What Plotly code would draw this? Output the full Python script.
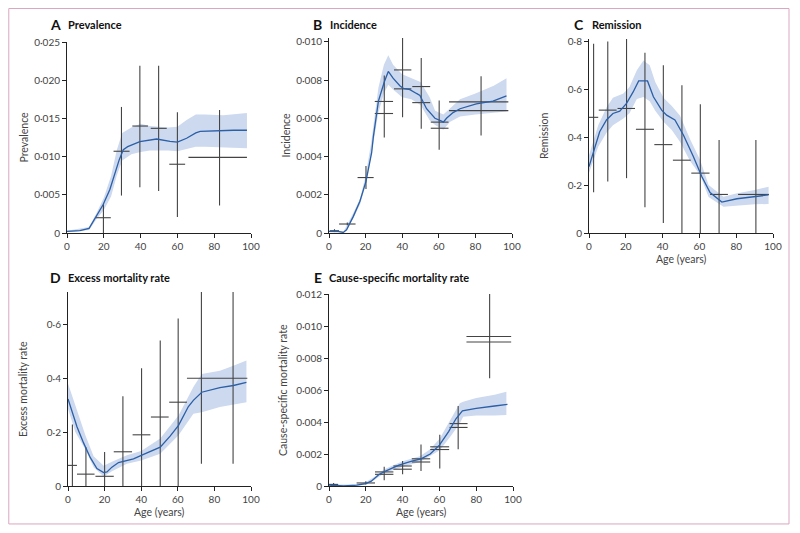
import plotly.graph_objects as go
from plotly.subplots import make_subplots

# Kolory i czcionki
LINE = "#2b5fa6"
BAND = "#cdd9ef"
BAR = "#444444"
AXIS = "#222222"
TICK_TXT = "#444444"
FRAME = "#dba6bf"
FONT = "Lato"

# ---------------- A: Prevalence ----------------
a_age = [0, 7, 12, 16, 19.6, 23.3, 28.4, 30.6, 33, 39.6, 48.7, 56, 60, 65, 70, 72.4, 81.5, 90.5, 97.8]
a_val = [0.0002, 0.0003, 0.0006, 0.0022, 0.0037, 0.0057, 0.0096, 0.0109, 0.0113, 0.01195, 0.0123,
         0.0120, 0.0119, 0.0124, 0.0131, 0.0133, 0.0134, 0.01345, 0.01345]
a_band_age = [0, 12, 16, 20, 24, 27, 30, 35, 40, 45, 50, 55, 60, 65, 70, 75, 85, 97.8]
a_band_hi = [0.0003, 0.0008, 0.0026, 0.0046, 0.0075, 0.0108, 0.0131, 0.0138, 0.0143, 0.0140,
             0.0139, 0.0138, 0.0139, 0.0148, 0.0155, 0.0155, 0.0154, 0.0157]
a_band_lo = [0.0001, 0.0004, 0.0018, 0.0030, 0.0048, 0.0075, 0.0095, 0.0103, 0.0106, 0.0108,
             0.0108, 0.0108, 0.0107, 0.0110, 0.0113, 0.0113, 0.0112, 0.0111]
a_obs_from = [15.5, 25.3, 35.5, 45.5, 55.6, 66]
a_obs_to = [23.8, 34, 44, 54.2, 64.2, 97.8]
a_obs_val = [0.002, 0.0107, 0.0140, 0.0137, 0.0090, 0.0099]
a_ci_age = [19.8, 29.6, 39.6, 49.8, 60, 82.9]
a_ci_lo = [0, 0.0049, 0.006, 0.0055, 0.0021, 0.0036]
a_ci_hi = [0.0038, 0.0165, 0.0219, 0.0219, 0.0158, 0.0161]

# ---------------- B: Incidence ----------------
b_age = [0, 5, 7.8, 9.6, 13.3, 16.9, 20.2, 23.3, 24.2, 27, 30.2, 32.4, 35, 38.7, 40.6, 44.2,
         47.8, 49.7, 53.3, 57.9, 61.5, 62.5, 64.2, 67.8, 71.6, 80.5, 89.6, 97]
b_val = [0.00008, 0.00008, 0.00003, 0.00017, 0.00087, 0.00166, 0.0027, 0.0042, 0.005, 0.0069,
         0.0079, 0.00845, 0.0081, 0.0077, 0.00757, 0.0075, 0.0073, 0.0072, 0.0065, 0.006,
         0.00585, 0.0058, 0.006, 0.0063, 0.0065, 0.00675, 0.0069, 0.00717]
b_band_age = [0, 8, 13, 17, 20, 23, 27, 30, 32.4, 35, 40, 45, 50, 55, 58, 62.5, 66, 71.6, 80, 90, 97]
b_band_hi = [0.00012, 0.00008, 0.001, 0.0018, 0.003, 0.0047, 0.0076, 0.0088, 0.0093, 0.0088, 0.0083,
             0.0081, 0.0079, 0.0071, 0.0064, 0.0062, 0.0065, 0.007, 0.0073, 0.0077, 0.0081]
b_band_lo = [0.00004, 0.0, 0.0007, 0.0015, 0.0025, 0.004, 0.0063, 0.0073, 0.00775, 0.0075, 0.0071,
             0.007, 0.0067, 0.0059, 0.00565, 0.0054, 0.0058, 0.0061, 0.0062, 0.0063, 0.00635]
b_obs_from = [0.5, 5.5, 15.6, 25, 25, 35.5, 35.5, 45.5, 45.5, 55.6, 55.6, 65.6, 65.6]
b_obs_to = [5.5, 14.5, 24.4, 35, 35, 45, 45, 55.3, 55.3, 65.3, 65.3, 98, 98]
b_obs_val = [0.00012, 0.00047, 0.0029, 0.00688, 0.00625, 0.00853, 0.00754, 0.00766, 0.00682,
             0.0058, 0.00548, 0.00686, 0.0064]
b_ci_age = [3, 10, 20.2, 30.2, 40.2, 50.4, 60.2, 83.1]
b_ci_lo = [0.00005, 0.0004, 0.0023, 0.005, 0.00606, 0.00545, 0.00436, 0.0051]
b_ci_hi = [0.0002, 0.00055, 0.0035, 0.00824, 0.0102, 0.00916, 0.00693, 0.0082]

# ---------------- C: Remission ----------------
c_age = [0, 2.5, 5.8, 9.5, 13, 16.7, 20.4, 24, 27, 31.8, 35, 39.5, 42.2, 46.7, 51.3, 56.7,
         61.3, 65.8, 72.2, 80.4, 89.5, 97.6]
c_val = [0.277, 0.34, 0.423, 0.472, 0.499, 0.509, 0.541, 0.589, 0.635, 0.635, 0.569, 0.513,
         0.492, 0.472, 0.409, 0.319, 0.236, 0.169, 0.129, 0.143, 0.153, 0.159]
c_band_age = [0, 5, 9.6, 13, 18.7, 22, 26, 29.6, 33, 36, 40.5, 45, 49.5, 55, 60.4, 65, 73.1, 80, 90, 97.6]
c_band_hi = [0.325, 0.45, 0.525, 0.565, 0.582, 0.61, 0.68, 0.72, 0.70, 0.63, 0.565, 0.53, 0.49,
             0.39, 0.305, 0.2, 0.151, 0.165, 0.18, 0.193]
c_band_lo = [0.25, 0.36, 0.42, 0.45, 0.478, 0.5, 0.56, 0.568, 0.55, 0.51, 0.464, 0.43, 0.38,
             0.30, 0.242, 0.15, 0.11, 0.115, 0.12, 0.121]
c_obs_from = [0, 5.3, 15.5, 25.5, 35.5, 45.6, 55.6, 65.8, 81]
c_obs_to = [5, 15, 25, 35.3, 45.3, 55.3, 65.5, 75.5, 97.8]
c_obs_val = [0.483, 0.513, 0.52, 0.433, 0.369, 0.304, 0.25, 0.161, 0.161]
c_ci_age = [2.5, 10.2, 20.4, 30.4, 40.4, 50.5, 60.5, 70.7, 90.7]
c_ci_lo = [0.17, 0.215, 0.229, 0.107, 0.042, 0, 0, 0, 0]
c_ci_hi = [0.79, 0.80, 0.81, 0.753, 0.70, 0.617, 0.538, 0.388, 0.388]

# ---------------- D: Excess mortality rate ----------------
d_age = [0, 2.2, 4.9, 8.5, 9.8, 12.2, 15.8, 19.5, 21.3, 24, 27.6, 32.2, 35.8, 41.3, 50.4, 55.8,
         60.4, 65.8, 68.5, 73.1, 83, 90.4, 97.5]
d_val = [0.323, 0.28, 0.22, 0.16, 0.14, 0.105, 0.065, 0.05, 0.052, 0.07, 0.087, 0.095, 0.101,
         0.117, 0.144, 0.185, 0.225, 0.295, 0.318, 0.348, 0.365, 0.373, 0.385]
d_band_age = [0, 4, 9.5, 14, 19.5, 24, 32.2, 40, 50.4, 60.4, 68.5, 73.1, 83, 90, 97.5]
d_band_hi = [0.38, 0.3, 0.188, 0.11, 0.075, 0.09, 0.114, 0.13, 0.176, 0.262, 0.367, 0.416, 0.428, 0.445, 0.466]
d_band_lo = [0.287, 0.2, 0.135, 0.07, 0.035, 0.055, 0.083, 0.095, 0.12, 0.188, 0.268, 0.274, 0.293, 0.302, 0.311]
d_obs_from = [0, 4.9, 15, 25, 35.3, 45.3, 55.3, 65]
d_obs_to = [4.9, 14.5, 25, 35, 45, 55, 65, 98]
d_obs_val = [0.0765, 0.044, 0.036, 0.127, 0.19, 0.256, 0.311, 0.40]
d_ci_age = [2.4, 9.8, 20, 30, 40.2, 50.4, 60.2, 72.9, 90.2]
d_ci_lo = [0, 0, 0, 0, 0, 0, 0, 0.083, 0.083]
d_ci_hi = [0.228, 0.144, 0.126, 0.333, 0.437, 0.54, 0.622, 0.75, 0.75]

# ---------------- E: Cause-specific mortality rate ----------------
e_age = [0, 8, 15, 20, 23, 27, 31, 38, 45, 50, 55, 60, 65, 69, 72.5, 80, 90, 97]
e_val = [0.00005, 0, 0.00005, 0.00015, 0.0003, 0.0007, 0.00095, 0.0013, 0.00155, 0.0017, 0.002,
         0.00255, 0.0034, 0.0042, 0.0047, 0.00485, 0.005, 0.0051]
e_band_age = [0, 15, 20, 25, 30, 40, 49.4, 55, 60.2, 66, 71.1, 72.9, 80, 90, 96.4]
e_band_hi = [0.0001, 0.0001, 0.00025, 0.0006, 0.00105, 0.00155, 0.00186, 0.0023, 0.00297, 0.0041,
             0.00517, 0.00527, 0.0055, 0.0057, 0.00589]
e_band_lo = [0, 0, 0.0001, 0.0004, 0.0008, 0.0012, 0.0015, 0.0019, 0.00224, 0.0031, 0.00391,
             0.00433, 0.0044, 0.0044, 0.00443]
e_obs_from = [0, 15, 25, 25, 35, 35, 45, 45, 55, 55, 65.5, 65.5, 74.7, 74.7]
e_obs_to = [5, 25, 35, 35, 45, 45, 55, 55, 65.3, 65.3, 75.3, 75.3, 99, 99]
e_obs_val = [0.0001, 0.00019, 0.00088, 0.00073, 0.00125, 0.00105, 0.0017, 0.0015, 0.00245,
             0.00228, 0.0039, 0.00366, 0.00934, 0.009]
e_ci_age = [2.5, 20, 30, 40, 50, 60.2, 70.2, 87.3]
e_ci_lo = [0.00003, 0.0001, 0.00036, 0.00073, 0.00094, 0.0011, 0.0023, 0.00673]
e_ci_hi = [0.00018, 0.0003, 0.0012, 0.00157, 0.0026, 0.0032, 0.005, 0.012]

# Osie / etykiety
x_ticks = [0, 20, 40, 60, 80, 100]
x_labels = ["0", "20", "40", "60", "80", "100"]
a_ticks = [0, 0.005, 0.010, 0.015, 0.020, 0.025]
a_labels = ["0", "0·005", "0·010", "0·015", "0·020", "0·025"]
b_ticks = [0, 0.002, 0.004, 0.006, 0.008, 0.010]
b_labels = ["0", "0·002", "0·004", "0·006", "0·008", "0·010"]
c_ticks = [0, 0.2, 0.4, 0.6, 0.8]
c_labels = ["0", "0·2", "0·4", "0·6", "0·8"]
d_ticks = [0, 0.2, 0.4, 0.6]
d_labels = ["0", "0·2", "0·4", "0·6"]
e_ticks = [0, 0.002, 0.004, 0.006, 0.008, 0.010, 0.012]
e_labels = ["0", "0·002", "0·004", "0·006", "0·008", "0·010", "0·012"]

# strona ma 8 px marginesu body, więc wykres jest o 16 px mniejszy od okna
PAGE_OFF = 8
W, H = 800 - 2 * PAGE_OFF, 533 - 2 * PAGE_OFF


def px(x):
    return (x - PAGE_OFF) / W


def py(y):
    return 1 - (y - PAGE_OFF) / H


# box = (x lewy, x prawy, y góra, y dół) obszaru wykresu w pikselach okna
panels = [
    dict(row=1, col=1, letter="A", title="Prevalence", ytitle="Prevalence",
         age=a_age, val=a_val, band_age=a_band_age, band_hi=a_band_hi, band_lo=a_band_lo,
         obs_from=a_obs_from, obs_to=a_obs_to, obs_val=a_obs_val,
         ci_age=a_ci_age, ci_lo=a_ci_lo, ci_hi=a_ci_hi,
         yt=a_ticks, yl=a_labels, yr=[0, 0.025],
         box=(67, 251, 42, 233), lx=48, tx=66, ty=24, ytx=23, xtitle=False),
    dict(row=1, col=2, letter="B", title="Incidence", ytitle="Incidence",
         age=b_age, val=b_val, band_age=b_band_age, band_hi=b_band_hi, band_lo=b_band_lo,
         obs_from=b_obs_from, obs_to=b_obs_to, obs_val=b_obs_val,
         ci_age=b_ci_age, ci_lo=b_ci_lo, ci_hi=b_ci_hi,
         yt=b_ticks, yl=b_labels, yr=[0, 0.0102],
         box=(329, 512, 38, 233), lx=311, tx=328, ty=24, ytx=285, xtitle=False),
    dict(row=1, col=3, letter="C", title="Remission", ytitle="Remission",
         age=c_age, val=c_val, band_age=c_band_age, band_hi=c_band_hi, band_lo=c_band_lo,
         obs_from=c_obs_from, obs_to=c_obs_to, obs_val=c_obs_val,
         ci_age=c_ci_age, ci_lo=c_ci_lo, ci_hi=c_ci_hi,
         yt=c_ticks, yl=c_labels, yr=[0, 0.81],
         box=(589, 773, 39, 233), lx=572, tx=590, ty=24, ytx=544, xtitle=True),
    dict(row=2, col=1, letter="D", title="Excess mortality rate", ytitle="Excess mortality rate",
         age=d_age, val=d_val, band_age=d_band_age, band_hi=d_band_hi, band_lo=d_band_lo,
         obs_from=d_obs_from, obs_to=d_obs_to, obs_val=d_obs_val,
         ci_age=d_ci_age, ci_lo=d_ci_lo, ci_hi=d_ci_hi,
         yt=d_ticks, yl=d_labels, yr=[0, 0.72],
         box=(68, 251, 292, 486), lx=48, tx=66, ty=277, ytx=23, xtitle=True),
    dict(row=2, col=2, letter="E", title="Cause-specific mortality rate",
         ytitle="Cause-specific mortality rate",
         age=e_age, val=e_val, band_age=e_band_age, band_hi=e_band_hi, band_lo=e_band_lo,
         obs_from=e_obs_from, obs_to=e_obs_to, obs_val=e_obs_val,
         ci_age=e_ci_age, ci_lo=e_ci_lo, ci_hi=e_ci_hi,
         yt=e_ticks, yl=e_labels, yr=[0, 0.012],
         box=(329, 513, 294, 486), lx=312, tx=327, ty=277, ytx=283, xtitle=True),
]

fig = make_subplots(rows=2, cols=3, specs=[[{}, {}, {}], [{}, {}, None]])

annotations = []
for p in panels:
    r, c = p["row"], p["col"]
    # pasmo niepewności
    fig.add_trace(go.Scatter(x=p["band_age"], y=p["band_hi"], mode="lines",
                             line=dict(width=0, color=BAND), showlegend=False,
                             hoverinfo="skip"), row=r, col=c)
    fig.add_trace(go.Scatter(x=p["band_age"], y=p["band_lo"], mode="lines",
                             line=dict(width=0, color=BAND), fill="tonexty",
                             fillcolor=BAND, showlegend=False, hoverinfo="skip"),
                  row=r, col=c)
    # odcinki danych: poziome (zakres wieku) i pionowe (przedział)
    hx, hy = [], []
    for a0, a1, v in zip(p["obs_from"], p["obs_to"], p["obs_val"]):
        hx += [a0, a1, None]
        hy += [v, v, None]
    for a, lo, hi in zip(p["ci_age"], p["ci_lo"], p["ci_hi"]):
        hx += [a, a, None]
        hy += [lo, hi, None]
    fig.add_trace(go.Scatter(x=hx, y=hy, mode="lines",
                             line=dict(color=BAR, width=1.1), showlegend=False),
                  row=r, col=c)
    # krzywa modelu
    fig.add_trace(go.Scatter(x=p["age"], y=p["val"], mode="lines",
                             line=dict(color=LINE, width=1.3), showlegend=False),
                  row=r, col=c)

    x0, x1, y0, y1 = p["box"]
    fig.update_xaxes(domain=[px(x0), px(x1)], range=[0, 100], tickvals=x_ticks,
                     ticktext=x_labels, row=r, col=c)
    fig.update_yaxes(domain=[py(y1), py(y0)], range=p["yr"], tickvals=p["yt"],
                     ticktext=p["yl"], row=r, col=c)

    # litera + tytuł panelu
    annotations.append(dict(
        x=px(p["lx"]), y=py(p["ty"]), xref="paper", yref="paper",
        xanchor="left", yanchor="middle", showarrow=False, text=p["letter"],
        font=dict(family=FONT, size=14, color="#111111", weight=700)))
    annotations.append(dict(
        x=px(p["tx"]), y=py(p["ty"]), xref="paper", yref="paper",
        xanchor="left", yanchor="middle", showarrow=False, text=p["title"],
        font=dict(family=FONT, size=11, color="#111111", weight=700)))
    # tytuł osi Y
    annotations.append(dict(
        x=px(p["ytx"]), y=py((y0 + y1) / 2), xref="paper", yref="paper",
        xanchor="center", yanchor="middle", textangle=-90, showarrow=False,
        text=p["ytitle"], font=dict(family=FONT, size=10.5, color=TICK_TXT)))
    if p["xtitle"]:
        annotations.append(dict(
            x=px((x0 + x1) / 2), y=py(y1 + 26), xref="paper", yref="paper",
            xanchor="center", yanchor="middle", showarrow=False,
            text="Age (years)", font=dict(family=FONT, size=10.5, color=TICK_TXT)))

fig.update_xaxes(showline=True, linecolor=AXIS, linewidth=1, ticks="outside", ticklen=4,
                 tickcolor=AXIS, showgrid=False, zeroline=False, automargin=False,
                 tickfont=dict(family=FONT, size=10, color=TICK_TXT))
fig.update_yaxes(showline=True, linecolor=AXIS, linewidth=1, ticks="outside", ticklen=4,
                 tickcolor=AXIS, showgrid=False, zeroline=False, automargin=False,
                 tickfont=dict(family=FONT, size=10, color=TICK_TXT))

fig.update_layout(
    width=W, height=H, margin=dict(l=0, r=0, t=0, b=0, autoexpand=False),
    paper_bgcolor="white", plot_bgcolor="white",
    showlegend=False, annotations=annotations,
    shapes=[dict(type="rect", xref="paper", yref="paper",
                 x0=0.001, x1=px(789), y0=0.002, y1=0.999,
                 line=dict(color=FRAME, width=1))],
)

fig.write_html("out.html")
